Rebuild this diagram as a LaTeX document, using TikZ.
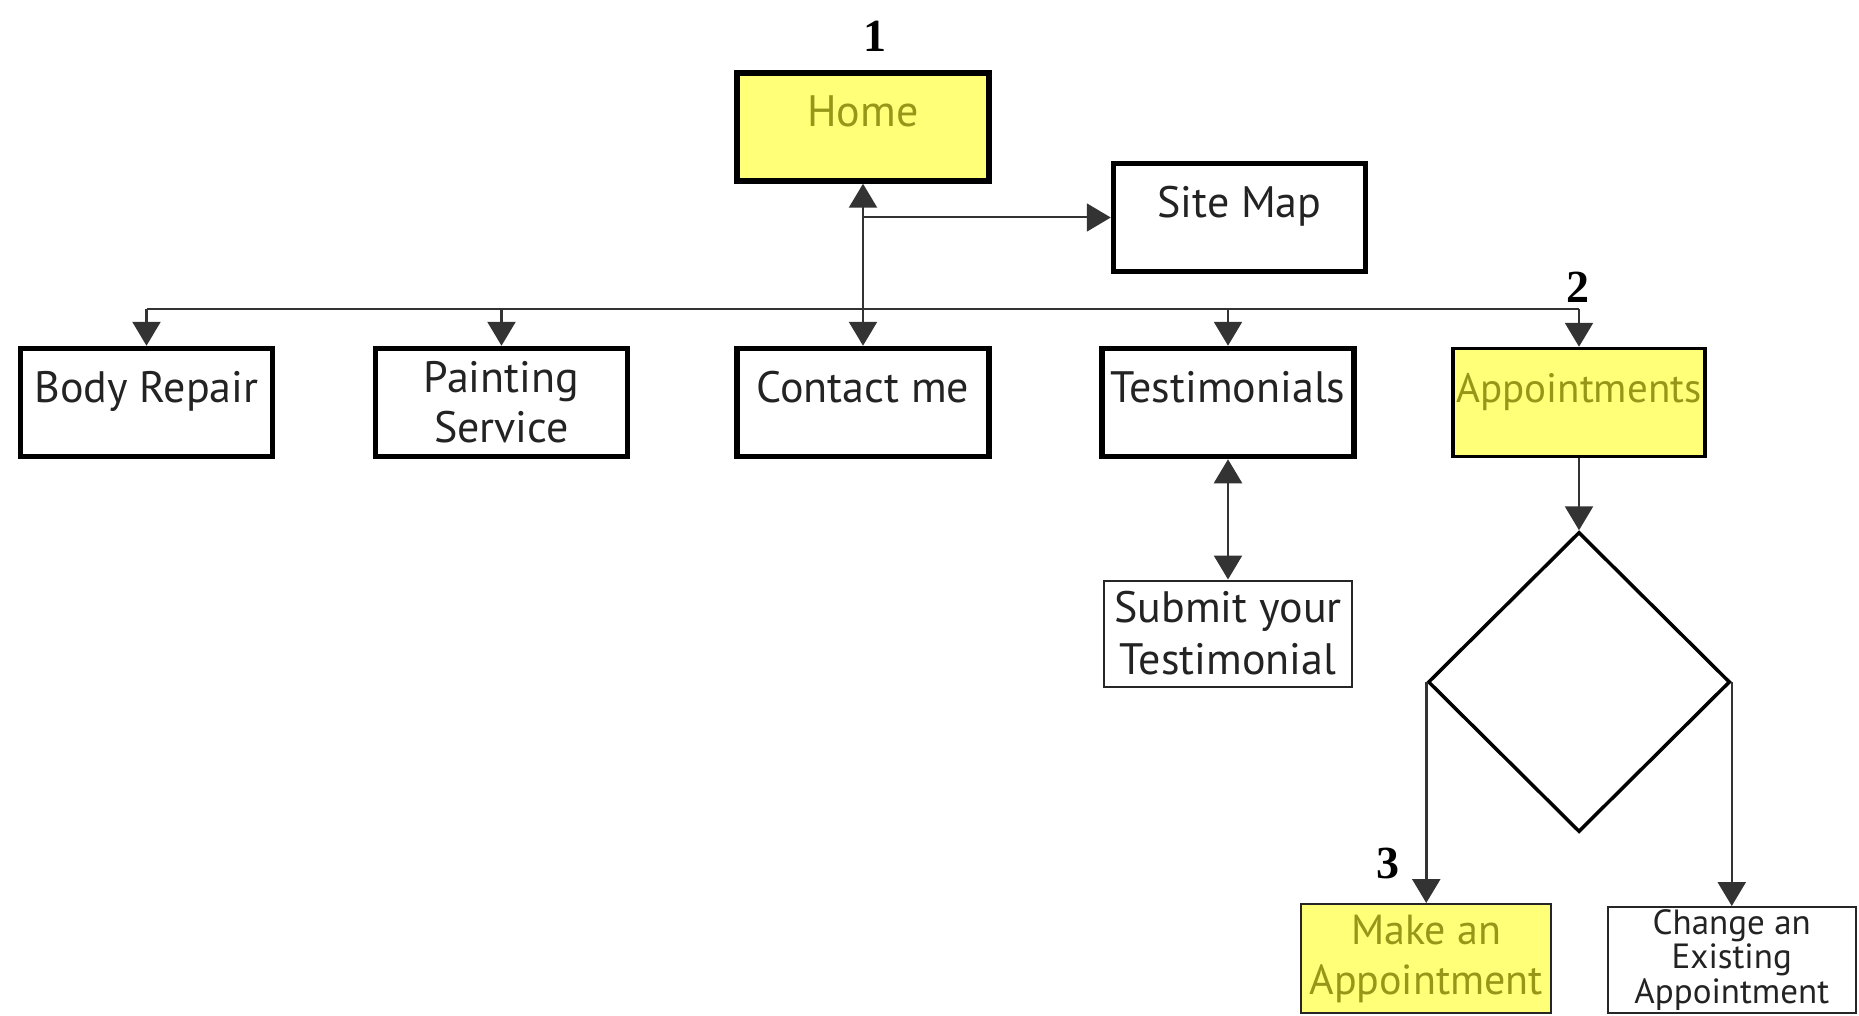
\documentclass[tikz,border=0pt]{standalone}
\usepackage{fontspec}
\setmainfont{PT Sans}
\newfontfamily\numfont{Liberation Serif}
\usetikzlibrary{arrows.meta,shapes.geometric}
\definecolor{boxyellow}{RGB}{255,255,120}
\definecolor{olivetext}{RGB}{150,150,25}
\definecolor{txtgray}{RGB}{35,35,35}
\tikzset{
  pagebox/.style={draw=black, line width=5.5pt, minimum width=252pt, minimum height=108pt,
    inner sep=0pt, align=center, text=txtgray, font=\fontsize{44}{50}\selectfont},
  oneline/.style={text height=0.8em, text depth=0.8em},
  hilite/.style={fill=boxyellow, text=olivetext},
  thinbox/.style={draw=black!85, line width=2pt, minimum width=248pt, minimum height=106pt,
    inner sep=0pt, align=center, text=txtgray, font=\fontsize{44}{52}\selectfont},
  decision/.style={draw=black, line width=3.5pt, diamond, minimum width=302pt, minimum height=300pt, inner sep=0pt},
  conn/.style={draw=black!80, line width=2.5pt, -{Triangle[length=24pt,width=28pt]}},
  biconn/.style={draw=black!80, line width=2.5pt, {Triangle[length=24pt,width=28pt]}-{Triangle[length=24pt,width=28pt]}},
  plainline/.style={draw=black!80, line width=2.5pt},
  stepnum/.style={font=\numfont\bfseries\fontsize{46}{46}\selectfont, inner sep=0pt}
}
\begin{document}
\begin{tikzpicture}[x=1pt,y=-1pt]
\useasboundingbox (0,0) rectangle (1859,1016);
% top
\node[pagebox,oneline,hilite] (home) at (863,127) {Home};
\node[pagebox,oneline] (sitemap) at (1239.5,217.5) {Site Map};
% row
\node[pagebox,oneline] (body) at (146.5,402.5) {Body Repair};
\node[pagebox,font=\fontsize{44}{50}\selectfont] (paint) at (501.5,402.5) {Painting\\Service};
\node[pagebox,oneline] (contact) at (863,402.5) {Contact me};
\node[pagebox,oneline] (testi) at (1228,402.5) {Testimonials};
\node[pagebox,oneline,hilite,line width=3.5pt,font=\fontsize{41}{50}\selectfont] (appt) at (1579,402.5) {Appointments};
% lower
\node[thinbox] (submit) at (1228,633.5) {Submit your\\Testimonial};
\node[decision] (dia) at (1579,682) {};
\node[thinbox,hilite,minimum width=250pt,minimum height=109pt,font=\fontsize{42}{50}\selectfont] (make) at (dia.west |- 0,958.5) {Make an\\Appointment};
\node[thinbox,minimum width=248pt,font=\fontsize{35}{34.5}\selectfont] (change) at (dia.east |- 0,960) {Change an\\Existing\\Appointment};
% numbers
\node[stepnum] (n1) at (875,36) {1};
\node[stepnum] (n2) at (1578,287) {2};
\node[stepnum] (n3) at (1388,863) {3};
% bus
\coordinate (busL) at (146.5,309);
\coordinate (busR) at (1579,309);
\draw[plainline] (busL) -- (busR);
\draw[conn] (busL) -- (body.north);
\draw[conn] (paint.north |- busL) -- (paint.north);
\draw[conn] (testi.north |- busL) -- (testi.north);
\draw[conn] (busR) -- (appt.north);
\draw[biconn] (contact.north) -- (home.south);
\draw[conn,line width=2pt] (home.south |- sitemap.west) -- (sitemap.west);
\draw[biconn] (testi.south) -- (submit.north);
\draw[conn] (appt.south) -- (dia.north);
\draw[conn] (dia.west) -- (make.north);
\draw[conn] (dia.east) -- (change.north);
\end{tikzpicture}
\end{document}
